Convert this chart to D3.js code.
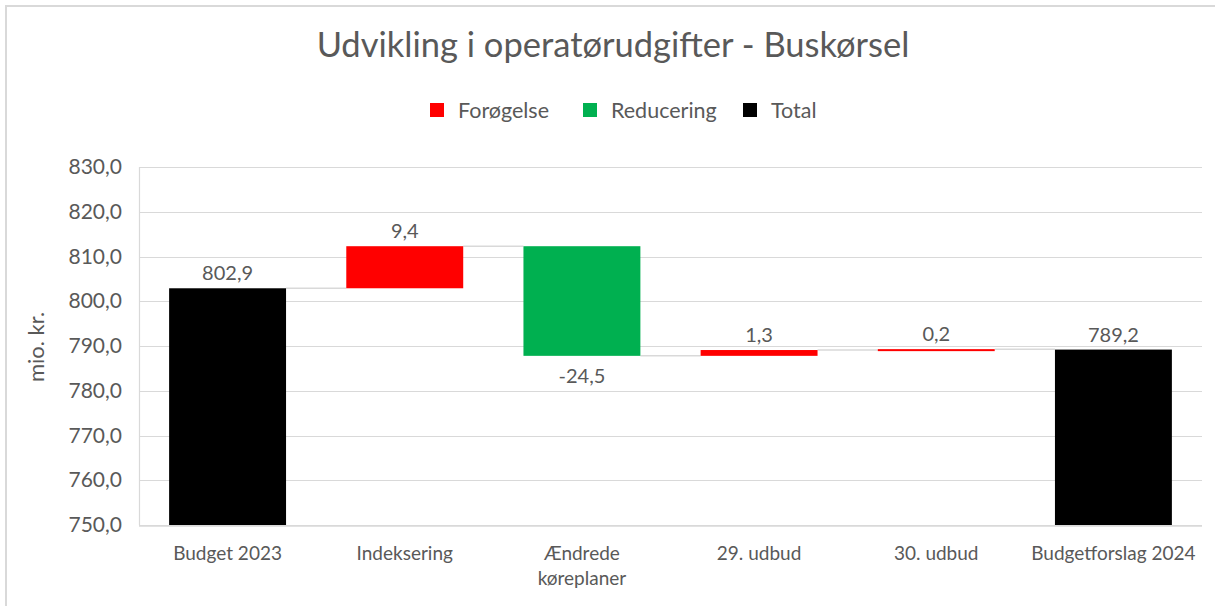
<!DOCTYPE html>
<html>
<head>
<meta charset="utf-8">
<script src="https://cdn.jsdelivr.net/npm/d3@7"></script>
<style>
  body { margin: 0; background: #fff; }
  text { font-family: Lato, "Open Sans", sans-serif; fill: #595959; }
</style>
</head>
<body>
<svg id="chart" width="1215" height="606"></svg>
<script>
// data
const categories = ["Budget 2023", "Indeksering", "Ændrede køreplaner", "29. udbud", "30. udbud", "Budgetforslag 2024"];
const values = [802.9, 9.4, -24.5, 1.3, 0.2, 789.2];
const kinds = ["total", "inc", "dec", "inc", "inc", "total"];
const yTicks = [750, 760, 770, 780, 790, 800, 810, 820, 830];
const legendItems = [
  { key: "inc", label: "Forøgelse" },
  { key: "dec", label: "Reducering" },
  { key: "total", label: "Total" }
];

const colors = { inc: "#ff0000", dec: "#00b050", total: "#000000" };
const da = d3.formatLocale({ decimal: ",", thousands: ".", grouping: [3], currency: ["", " kr."], minus: "-" });
const fmt = da.format(".1f");

const svg = d3.select("#chart");
const W = 1215, H = 606;
const margin = { top: 167, right: 13, bottom: 81, left: 139 };

// chart frame
svg.append("rect")
  .attr("x", 6).attr("y", 6)
  .attr("width", W + 20).attr("height", H + 20)
  .attr("fill", "#fff").attr("stroke", "#d9d9d9").attr("stroke-width", 2);

// running totals for the waterfall
let running = 0;
const bars = values.map((v, i) => {
  let start, end;
  if (kinds[i] === "total") { start = 750; end = v; running = v; }
  else { start = running; end = running + v; running = end; }
  return { cat: categories[i], value: v, kind: kinds[i], start, end };
});

const x = d3.scaleBand()
  .domain(categories)
  .range([margin.left, W - margin.right])
  .paddingInner(0.34)
  .paddingOuter(0.17);

const y = d3.scaleLinear()
  .domain([750, 830])
  .range([H - margin.bottom, margin.top]);

// gridlines
svg.append("g")
  .selectAll("line")
  .data(yTicks)
  .join("line")
  .attr("x1", margin.left).attr("x2", W - margin.right)
  .attr("y1", d => Math.round(y(d)) + 0.5).attr("y2", d => Math.round(y(d)) + 0.5)
  .attr("stroke", "#d9d9d9").attr("stroke-width", 1.2);

svg.append("line")
  .attr("x1", margin.left + 0.5).attr("x2", margin.left + 0.5)
  .attr("y1", y(830)).attr("y2", y(750))
  .attr("stroke", "#d9d9d9").attr("stroke-width", 1.2);

// y axis labels
const yAxis = d3.axisLeft(y).tickValues(yTicks).tickFormat(fmt).tickSize(0).tickPadding(17);
const gy = svg.append("g").attr("transform", `translate(${margin.left},0)`).call(yAxis);
gy.select(".domain").remove();
gy.selectAll("text").style("font-size", "21px").attr("fill", "#595959");

// connectors
svg.append("g")
  .selectAll("line")
  .data(bars.slice(0, -1))
  .join("line")
  .attr("x1", d => x(d.cat) + x.bandwidth())
  .attr("x2", (d, i) => x(categories[i + 1]))
  .attr("y1", d => y(d.end)).attr("y2", d => y(d.end))
  .attr("stroke", "#d9d9d9").attr("stroke-width", 1.5);

// bars
svg.append("g")
  .selectAll("rect")
  .data(bars)
  .join("rect")
  .attr("x", d => x(d.cat))
  .attr("width", x.bandwidth())
  .attr("y", d => y(Math.max(d.start, d.end)))
  .attr("height", d => Math.max(2, Math.abs(y(d.start) - y(d.end))))
  .attr("fill", d => colors[d.kind]);

// bottom axis line
svg.append("line")
  .attr("x1", margin.left).attr("x2", W - margin.right)
  .attr("y1", y(750) + 1).attr("y2", y(750) + 1)
  .attr("stroke", "#d9d9d9").attr("stroke-width", 1.5);

// value labels
svg.append("g")
  .selectAll("text")
  .data(bars)
  .join("text")
  .attr("x", d => x(d.cat) + x.bandwidth() / 2)
  .attr("y", d => d.kind === "dec" ? y(d.end) + 27 : y(Math.max(d.start, d.end)) - 8)
  .attr("text-anchor", "middle")
  .style("font-size", "20px")
  .text(d => fmt(d.value));

// category labels (wrap)
const catG = svg.append("g");
categories.forEach(c => {
  const lines = c === "Ændrede køreplaner" ? ["Ændrede", "køreplaner"] : [c];
  const t = catG.append("text")
    .attr("x", x(c) + x.bandwidth() / 2)
    .attr("y", 560)
    .attr("text-anchor", "middle")
    .style("font-size", "19px");
  lines.forEach((l, i) => t.append("tspan")
    .attr("x", x(c) + x.bandwidth() / 2)
    .attr("dy", i === 0 ? 0 : 25)
    .text(l));
});

// y axis title
svg.append("text")
  .attr("transform", "translate(44,347) rotate(-90)")
  .attr("text-anchor", "middle")
  .style("font-size", "22px")
  .text("mio. kr.");

// title
svg.append("text")
  .attr("x", 613).attr("y", 57)
  .attr("text-anchor", "middle")
  .style("font-size", "34.5px")
  .text("Udvikling i operatørudgifter - Buskørsel");

// legend
const legendX = [430, 583, 743];
const lg = svg.append("g");
legendItems.forEach((d, i) => {
  lg.append("rect")
    .attr("x", legendX[i]).attr("y", 103)
    .attr("width", 14).attr("height", 14)
    .attr("fill", colors[d.key]);
  lg.append("text")
    .attr("x", legendX[i] + 28).attr("y", 118)
    .style("font-size", "21.5px")
    .text(d.label);
});
</script>
</body>
</html>
